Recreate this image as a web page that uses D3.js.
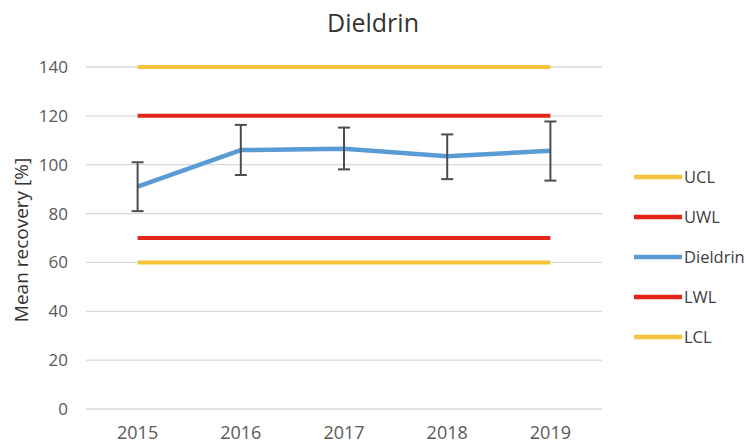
<!DOCTYPE html>
<html><head><meta charset="utf-8">
<script src="https://cdn.jsdelivr.net/npm/d3@7"></script>
<style>body{margin:0;background:#fff}svg{display:block}text{font-family:"Open Sans",sans-serif}</style>
</head><body>
<svg id="c" width="748" height="445"></svg>
<script>
const years = ["2015","2016","2017","2018","2019"];
const dieldrin = [91, 106, 106.5, 103.5, 105.7];
const errLow = [10, 10.2, 8.4, 9.4, 12.2];
const errHigh = [10, 10.3, 8.7, 8.9, 12.0];
const UCL = [140,140,140,140,140];
const UWL = [120,120,120,120,120];
const LWL = [70,70,70,70,70];
const LCL = [60,60,60,60,60];
const yTicks = [0,20,40,60,80,100,120,140];
const legendItems = [
  {name:"UCL", color:"#F7C33C"},
  {name:"UWL", color:"#E3261B"},
  {name:"Dieldrin", color:"#5B9BD5"},
  {name:"LWL", color:"#E3261B"},
  {name:"LCL", color:"#F7C33C"}
];

const svg = d3.select("#c");
const mLeft = 86, mRight = 602, mTop = 67, mBottom = 409;
const x = d3.scaleBand().domain(years).range([mLeft, mRight]);
const y = d3.scaleLinear().domain([0,140]).range([mBottom, mTop]);
const cx = d => x(d) + x.bandwidth()/2;

// gridlines
svg.append("g").selectAll("line").data(yTicks).join("line")
  .attr("x1", mLeft).attr("x2", mRight)
  .attr("y1", d=>y(d)).attr("y2", d=>y(d))
  .attr("stroke", "#D9D9D9").attr("stroke-width", 1.3);

// y axis labels
const yAxis = d3.axisLeft(y).tickValues(yTicks).tickSize(0).tickPadding(0);
const ya = svg.append("g").attr("transform", `translate(${mLeft-18},0)`).call(yAxis);
ya.select(".domain").remove();
ya.selectAll("text").attr("font-size", 17).attr("fill", "#595959").style("font-family", '"Open Sans",sans-serif');

// x axis labels
const xAxis = d3.axisBottom(x).tickSize(0).tickPadding(0);
const xa = svg.append("g").attr("transform", `translate(0,${mBottom+17})`).call(xAxis);
xa.select(".domain").remove();
xa.selectAll("text").attr("font-size", 18).attr("fill", "#595959").style("font-family", '"Open Sans",sans-serif');

const line = d3.line().x((d,i)=>cx(years[i])).y(d=>y(d));
function drawLine(arr, color, w){
  svg.append("path").datum(arr).attr("d", line)
    .attr("fill","none").attr("stroke", color).attr("stroke-width", w)
    .attr("stroke-linejoin","round");
}
drawLine(UCL, "#F7C33C", 4);
drawLine(LCL, "#F7C33C", 4);
drawLine(UWL, "#E3261B", 4);
drawLine(LWL, "#E3261B", 4);
drawLine(dieldrin, "#5B9BD5", 4.5);

// error bars
const eb = svg.append("g").attr("stroke", "#4D4D4D").attr("stroke-width", 2);
dieldrin.forEach((v,i)=>{
  const xc = cx(years[i]);
  const t = y(v+errHigh[i]), b = y(v-errLow[i]);
  eb.append("line").attr("x1",xc).attr("x2",xc).attr("y1",t).attr("y2",b);
  eb.append("line").attr("x1",xc-6).attr("x2",xc+6).attr("y1",t).attr("y2",t);
  eb.append("line").attr("x1",xc-6).attr("x2",xc+6).attr("y1",b).attr("y2",b);
});

// title
svg.append("text").attr("x", 373).attr("y", 32).attr("text-anchor","middle")
  .attr("font-size", 25).attr("fill", "#333").text("Dieldrin");

// y title
svg.append("text").attr("transform", "translate(28,240) rotate(-90)")
  .attr("text-anchor","middle").attr("font-size", 19).attr("fill","#333")
  .text("Mean recovery [%]");

// legend
const lg = svg.append("g").selectAll("g").data(legendItems).join("g")
  .attr("transform", (d,i)=>`translate(634,${177+i*40})`);
lg.append("line").attr("x1",0).attr("x2",48).attr("stroke",d=>d.color).attr("stroke-width",4.5);
lg.append("text").attr("x",50).attr("y",6).attr("font-size",16.5).attr("fill","#404040").text(d=>d.name);
</script>
</body></html>
